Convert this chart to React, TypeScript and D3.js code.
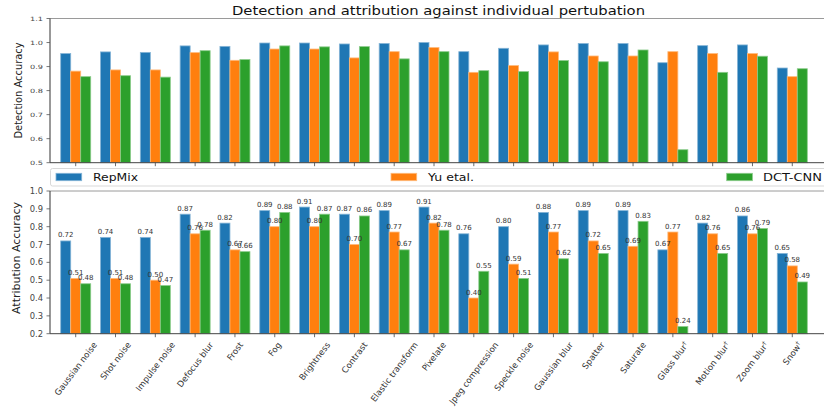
import React, { useMemo } from "react";
import * as d3 from "d3";

const categories = [
  "Gaussian noise", "Shot noise", "Impulse noise", "Defocus blur", "Frost", "Fog",
  "Brightness", "Contrast", "Elastic transform", "Pixelate", "Jpeg compression",
  "Speckle noise", "Gaussian blur", "Spatter", "Saturate", "Glass blur",
  "Motion blur", "Zoom blur", "Snow",
];
// categories flagged with a dagger in the axis labels
const daggered = ["Glass blur", "Motion blur", "Zoom blur", "Snow"];

const seriesNames = ["RepMix", "Yu etal.", "DCT-CNN"];
const seriesColors = ["#1f77b4", "#ff7f0e", "#2ca02c"];

// Detection accuracy per perturbation
const repmixDetection = [0.954, 0.961, 0.959, 0.986, 0.984, 0.998, 0.998, 0.994, 0.996, 1.0, 0.962, 0.976, 0.990, 0.996, 0.996, 0.916, 0.987, 0.990, 0.894];
const yuDetection = [0.881, 0.886, 0.886, 0.958, 0.926, 0.973, 0.973, 0.936, 0.962, 0.979, 0.876, 0.904, 0.961, 0.944, 0.944, 0.962, 0.954, 0.954, 0.858];
const dctDetection = [0.858, 0.862, 0.856, 0.966, 0.929, 0.986, 0.982, 0.983, 0.932, 0.962, 0.883, 0.879, 0.925, 0.920, 0.969, 0.554, 0.876, 0.943, 0.891];

// Attribution accuracy per perturbation
const repmixAttribution = [0.72, 0.74, 0.74, 0.87, 0.82, 0.89, 0.91, 0.87, 0.89, 0.91, 0.76, 0.80, 0.88, 0.89, 0.89, 0.67, 0.82, 0.86, 0.65];
const yuAttribution = [0.51, 0.51, 0.50, 0.76, 0.67, 0.80, 0.80, 0.70, 0.77, 0.82, 0.40, 0.59, 0.77, 0.72, 0.69, 0.77, 0.76, 0.76, 0.58];
const dctAttribution = [0.48, 0.48, 0.47, 0.78, 0.66, 0.88, 0.87, 0.86, 0.67, 0.78, 0.55, 0.51, 0.62, 0.65, 0.83, 0.24, 0.65, 0.79, 0.49];

const detectionTicks = [0.5, 0.6, 0.7, 0.8, 0.9, 1.0, 1.1];
const attributionTicks = [0.2, 0.3, 0.4, 0.5, 0.6, 0.7, 0.8, 0.9, 1.0];

const W = 824;
const H = 408;
const FONT = "DejaVu Sans, sans-serif";
const AXIS_LEFT = 50;

const x = d3.scaleBand<string>().domain(categories).range([55.8, 812.2]).padding(0);
const xSub = d3.scaleBand<string>().domain(seriesNames).range([0, 30]).padding(0);
const groupOffset = (x.bandwidth() - 30) / 2;

const yTop = d3.scaleLinear().domain([0.5, 1.1]).range([162.7, 18.5]);
const yBot = d3.scaleLinear().domain([0.2, 1.0]).range([333.7, 191]);

const fmt = d3.format(".2f");
const fmt1 = d3.format(".1f");

function measure(text: string, size: number): number {
  const c = document.createElement("canvas").getContext("2d");
  if (!c) return text.length * size * 0.55;
  c.font = `${size}px DejaVu Sans`;
  return c.measureText(text).width;
}

type PanelProps = {
  y: d3.ScaleLinear<number, number>;
  series: number[][];
  ticks: number[];
  labels: boolean;
  tickScaleY: number;
  tickSize: number;
};

function Panel({ y, series, ticks, labels, tickScaleY, tickSize }: PanelProps) {
  const [y0, y1] = y.range();
  const bars = series.flatMap((vals, si) =>
    vals.map((v, ci) => {
      const cat = categories[ci];
      const bx = (x(cat) as number) + groupOffset + (xSub(seriesNames[si]) as number);
      return { si, ci, v, bx, by: y(v), color: seriesColors[si] };
    })
  );
  return (
    <g>
      {/* top spine */}
      <line x1={AXIS_LEFT} x2={W} y1={y1} y2={y1} stroke="#9a9a9a" strokeWidth={1} />
      {bars.map((b) => (
        <rect
          key={`bar-${b.si}-${b.ci}`}
          x={b.bx}
          y={b.by}
          width={xSub.bandwidth()}
          height={y0 - b.by}
          fill={b.color}
          stroke={d3.interpolateRgb(b.color, "#ffffff")(0.45)}
          strokeWidth={0.8}
        />
      ))}
      {labels &&
        bars.map((b) => (
          <text
            key={`lab-${b.si}-${b.ci}`}
            x={b.bx + xSub.bandwidth() / 2}
            y={b.by - 3.5}
            textAnchor="middle"
            fontSize={7}
            fontFamily={FONT}
            fill="#333"
          >
            {fmt(b.v)}
          </text>
        ))}
      {/* left spine and y ticks */}
      <line x1={AXIS_LEFT} x2={AXIS_LEFT} y1={y1} y2={y0} stroke="#333" strokeWidth={1} />
      {ticks.map((t) => (
        <g key={t}>
          <line x1={AXIS_LEFT - 3.5} x2={AXIS_LEFT} y1={y(t)} y2={y(t)} stroke="#555" strokeWidth={0.8} />
          <text
            transform={`translate(${AXIS_LEFT - 7},${y(t)}) scale(1,${tickScaleY})`}
            textAnchor="end"
            dominantBaseline="central"
            fontSize={tickSize}
            fontFamily={FONT}
            fill="#444"
          >
            {fmt1(t)}
          </text>
        </g>
      ))}
      {/* bottom spine and x ticks */}
      <line x1={AXIS_LEFT} x2={W} y1={y0} y2={y0} stroke="#444" strokeWidth={1} />
      {categories.map((c) => {
        const cx = (x(c) as number) + x.bandwidth() / 2;
        return <line key={c} x1={cx} x2={cx} y1={y0} y2={y0 + 3.5} stroke="#444" strokeWidth={0.8} />;
      })}
    </g>
  );
}

export default function App() {
  const labelSize = 8.5;
  const angle = 53;
  const rad = (angle * Math.PI) / 180;
  const xLabels = useMemo(
    () =>
      categories.map((c) => {
        const dag = daggered.includes(c);
        const L = measure(c, labelSize) + (dag ? measure("†", 6) : 0);
        const h = 7;
        const cx = (x(c) as number) + x.bandwidth() / 2;
        const cy = 341 + (L * Math.sin(rad) + h * Math.cos(rad)) / 2;
        return { c, dag, cx, cy };
      }),
    []
  );

  const legendX = [56, 391, 726.7];
  const legendTextX = [93, 428, 763];
  const legendTextLen = [45, 46, 59];

  return (
    <svg width={W} height={H} style={{ position: "absolute", left: 0, top: 0, background: "#fff" }}>
      <rect x={0} y={0} width={W} height={H} fill="#fff" />
      <text
        x={232}
        y={14.5}
        fontSize={11.5}
        fontFamily={FONT}
        fill="#111"
        textLength={413}
        lengthAdjust="spacingAndGlyphs"
      >
        Detection and attribution against individual pertubation
      </text>

      <Panel
        y={yTop}
        series={[repmixDetection, yuDetection, dctDetection]}
        ticks={detectionTicks}
        labels={false}
        tickScaleY={0.72}
        tickSize={8.2}
      />
      <Panel
        y={yBot}
        series={[repmixAttribution, yuAttribution, dctAttribution]}
        ticks={attributionTicks}
        labels={true}
        tickScaleY={1}
        tickSize={8.4}
      />

      <text
        transform={`translate(22,90.5) rotate(-90)`}
        textAnchor="middle"
        fontSize={10}
        fontFamily={FONT}
        fill="#222"
        textLength={96}
        lengthAdjust="spacingAndGlyphs"
      >
        Detection Accuracy
      </text>
      <text
        transform={`translate(19.5,258) rotate(-90)`}
        textAnchor="middle"
        fontSize={10.5}
        fontFamily={FONT}
        fill="#222"
        textLength={112}
        lengthAdjust="spacingAndGlyphs"
      >
        Attribution Accuracy
      </text>

      {/* legend */}
      <rect x={50.5} y={168.5} width={800} height={17.5} rx={2} fill="#fff" stroke="#d9d9d9" strokeWidth={1} />
      {seriesNames.map((s, i) => (
        <g key={s}>
          <rect
            x={legendX[i]}
            y={173.3}
            width={25.7}
            height={7.4}
            fill={seriesColors[i]}
            stroke={d3.interpolateRgb(seriesColors[i], "#ffffff")(0.45)}
            strokeWidth={0.8}
          />
          <text
            x={legendTextX[i]}
            y={181}
            fontSize={10.5}
            fontFamily={FONT}
            fill="#111"
            textLength={legendTextLen[i]}
            lengthAdjust="spacingAndGlyphs"
          >
            {s}
          </text>
        </g>
      ))}

      {xLabels.map(({ c, dag, cx, cy }) => (
        <text
          key={c}
          transform={`translate(${cx},${cy}) rotate(${-angle})`}
          textAnchor="middle"
          dominantBaseline="central"
          fontSize={labelSize}
          fontFamily={FONT}
          fill="#333"
        >
          {c}
          {dag && (
            <tspan fontSize={6} dy={-3}>
              †
            </tspan>
          )}
        </text>
      ))}
    </svg>
  );
}
